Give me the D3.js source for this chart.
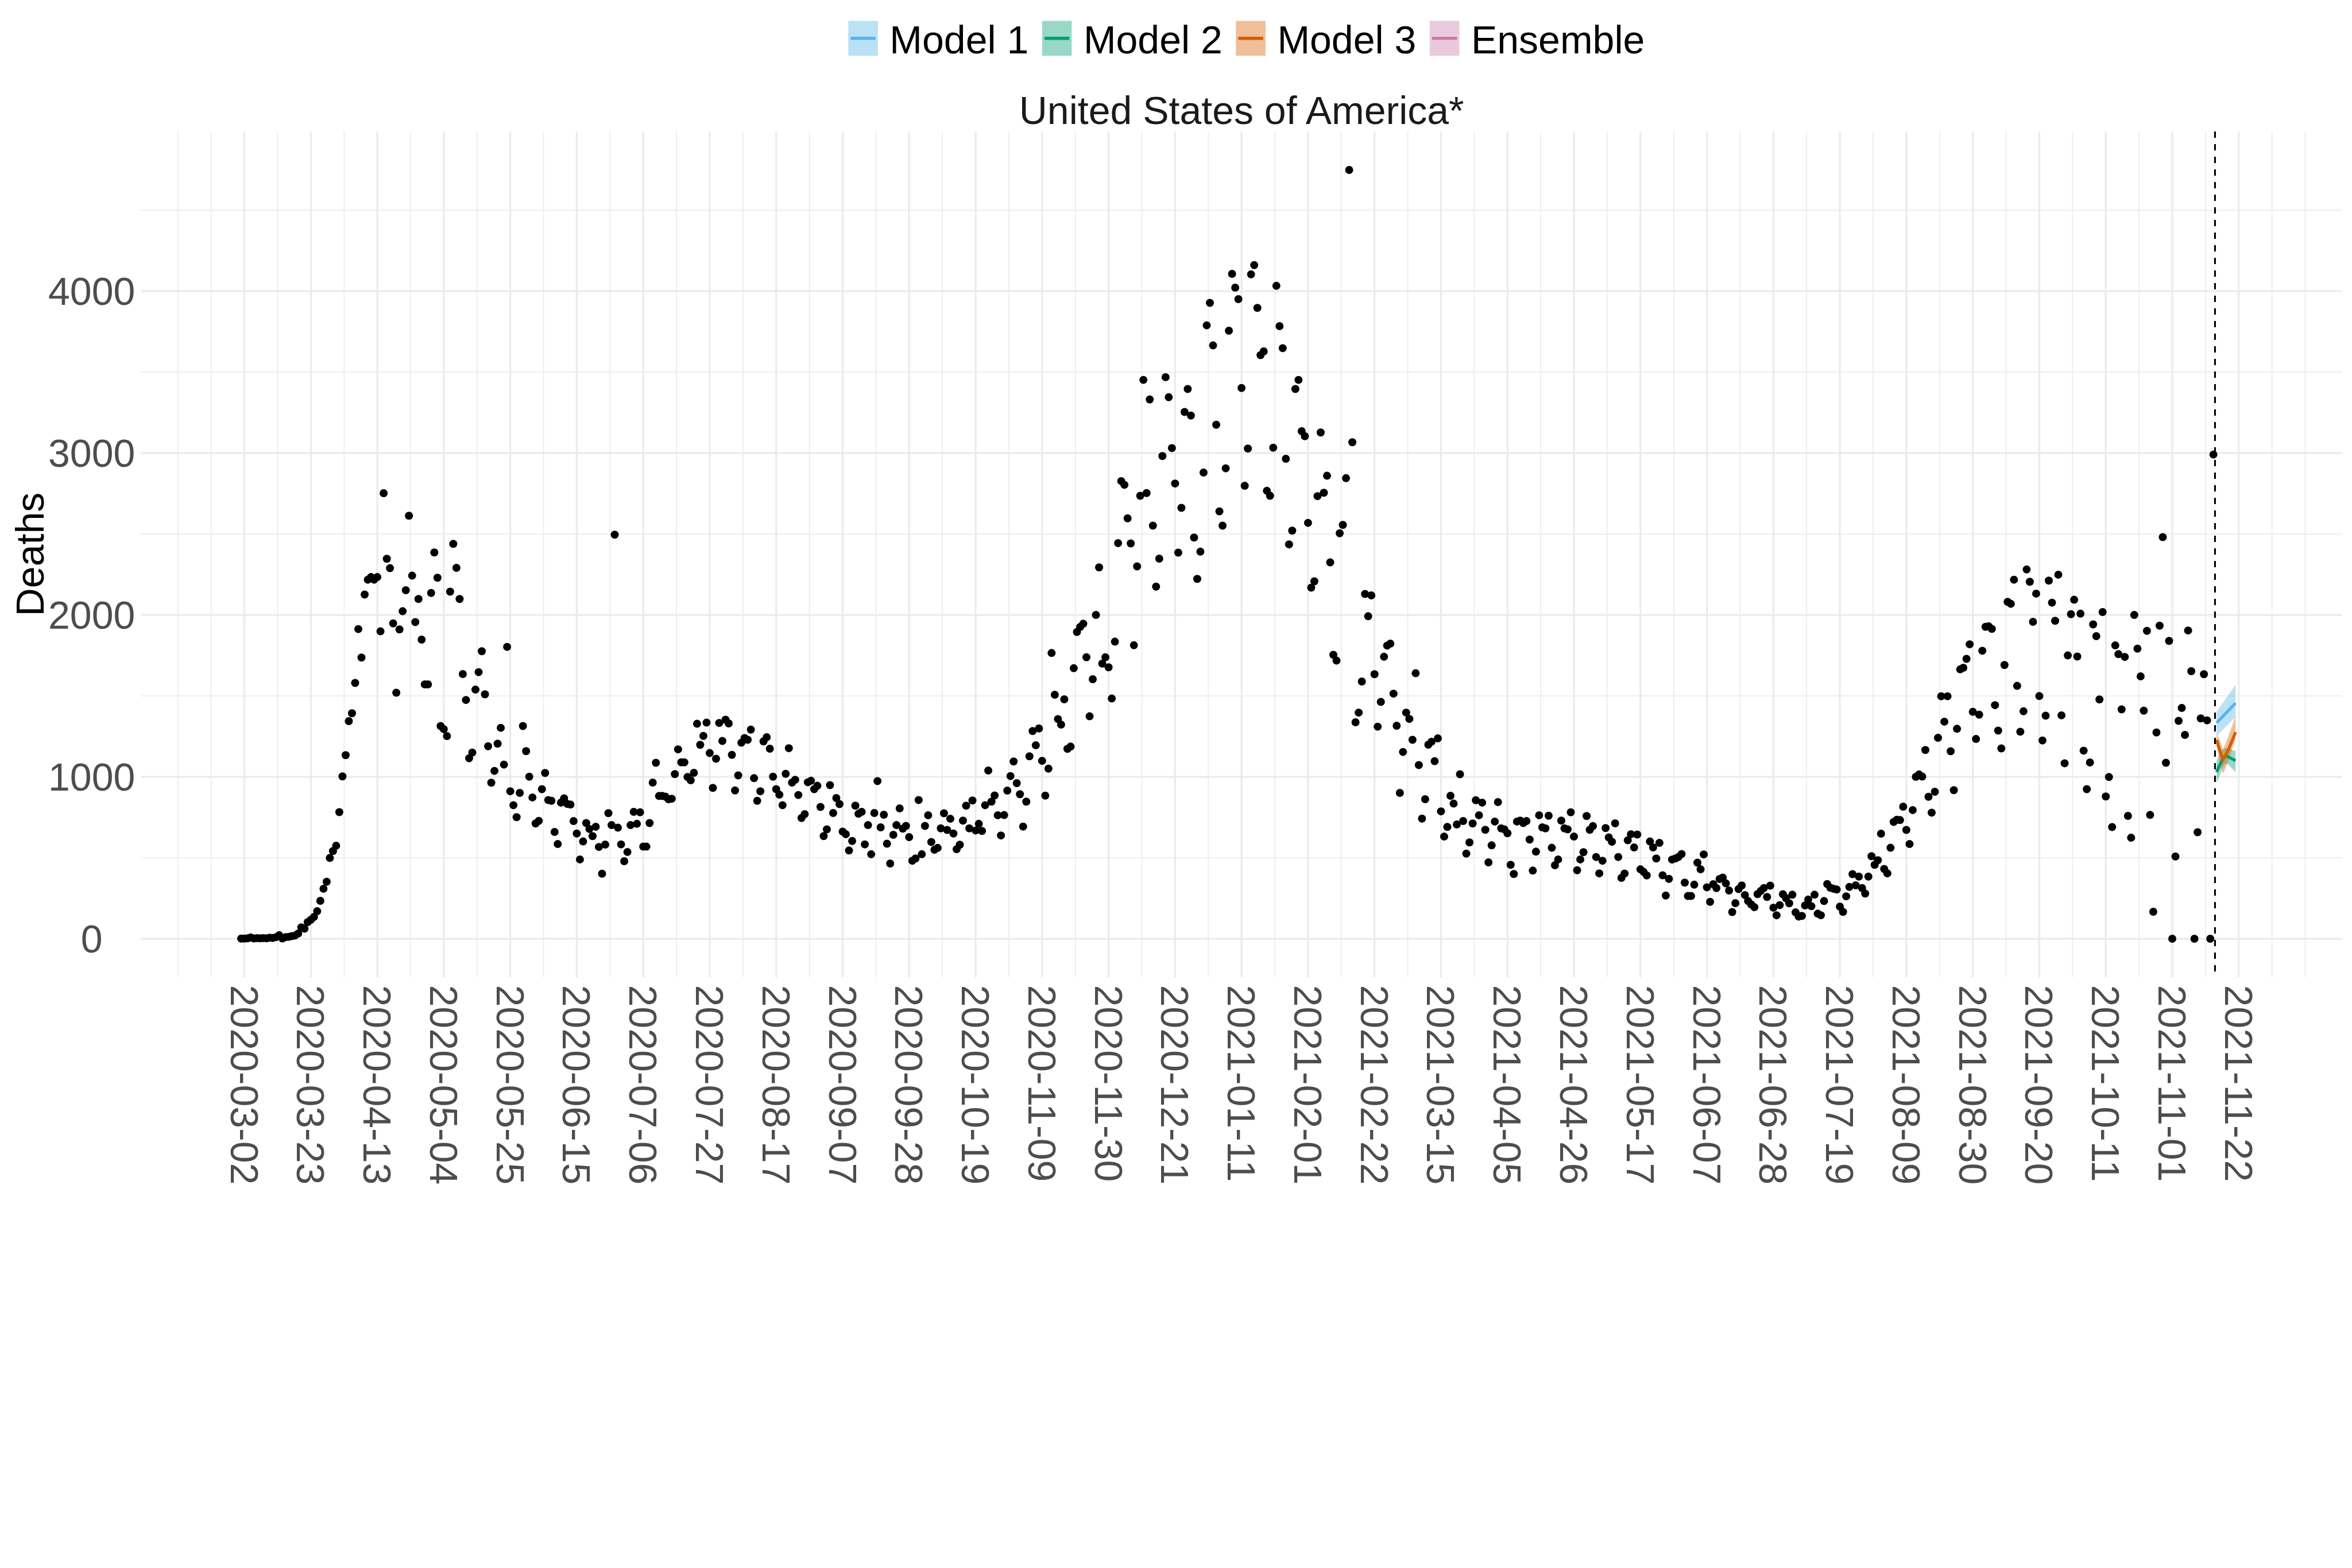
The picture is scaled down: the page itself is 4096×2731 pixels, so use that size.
<!DOCTYPE html>
<html><head><meta charset="utf-8">
<script src="https://cdn.jsdelivr.net/npm/d3@7"></script>
<style>html,body{margin:0;padding:0;background:#fff;} svg{display:block;}</style>
</head><body>
<svg id="chart" width="4096" height="2731"></svg>
<script>
// ---------------- DATA ----------------
const startDate = "2020-03-01";           // first observed day
const xLimits = ["2020-03-01", "2021-11-23"]; // data limits of the x scale
// daily deaths 2020-03-01 .. 2020-12-31
const deaths2020 = [
1,1,3,8,2,4,3,4,3,6,5,10,22,2,10,12,16,20,32,70,62,103,117,135,170,234,309,352,499,542,575,782,
1003,1134,1344,1393,1580,1913,1737,2126,2218,2234,
2218,2234,1899,2752,2347,2289,1948,1520,1911,2023,
2153,2613,2243,1956,2099,1848,1571,1571,2136,2386,
2230,1314,1295,1252,2144,2439,2291,2099,1635,1475,
1115,1150,1539,1647,1776,1510,1189,964,1037,1205,
1303,1076,1803,911,825,751,901,1314,1159,1001,
873,712,728,924,1024,857,852,660,585,841,
867,833,829,727,650,490,601,715,678,634,
692,567,402,582,776,702,2496,686,583,479,
536,702,784,710,781,569,569,715,965,1087,
882,882,878,862,865,1017,1170,1090,1090,999,
979,1025,1328,1198,1253,1335,1147,932,1112,1333,
1222,1353,1330,1136,916,1009,1211,1240,1229,1292,
992,852,911,1219,1245,1174,1001,924,890,825,
1019,1177,965,982,888,746,770,967,976,924,
945,814,634,676,949,777,869,832,662,646,
545,604,822,772,784,583,702,522,777,974,
688,766,587,465,642,702,805,680,697,628,
482,496,857,522,697,763,598,550,561,682,
775,672,741,650,553,581,730,822,682,854,
669,710,666,825,1039,847,885,763,638,764,
915,1005,1095,961,893,693,847,1127,1283,1195,
1299,1099,884,1051,1765,1507,1357,1323,1479,1173,
1187,1671,1895,1926,1946,1739,1374,1603,2000,2294,
1700,1739,1677,1484,1835,2444,2827,2804,2597,2442,
1813,2300,2736,3452,2753,3331,2552,2175,2348,2982,
3469,3345,3031,2812,2385,2662,3254,3396,3232,2478,
2223,2391,2880,3789
];
// daily deaths 2021-01-01 .. 2021-11-14
const deaths2021 = [
3928,3665,3175,2640,2552,2906,
3756,4107,4022,3951,3402,2798,3028,4104,4161,3897,
3605,3628,2767,2736,3033,4033,3784,3648,2965,2436,
2521,3396,3452,3135,3104,2569,2169,2208,2734,3127,
2755,2860,2325,1754,1718,2505,2556,2845,4749,3067,
1337,1397,1589,2130,1992,2121,1634,1310,1463,1742,
1811,1823,1514,1316,901,1154,1397,1358,1229,1640,
1073,742,862,1199,1217,1097,1238,787,631,691,
883,835,706,1016,727,526,595,712,856,763,
841,673,472,577,724,844,682,676,652,457,
400,724,730,715,727,613,421,538,763,688,
682,760,562,454,490,730,682,676,781,631,
423,490,535,758,673,696,505,404,482,684,
626,599,713,505,376,403,608,646,564,644,
429,413,391,601,564,496,592,392,267,370,
489,496,505,523,347,264,264,334,470,429,
521,318,228,337,313,369,378,342,298,165,
220,307,329,270,233,212,195,276,295,313,
258,328,192,145,208,275,250,219,272,163,
137,141,206,242,201,272,155,145,233,338,
315,309,304,199,166,262,320,399,330,384,
313,279,384,510,457,485,649,431,404,562,
722,735,733,816,672,585,795,1000,1015,1002,
1166,877,779,908,1241,1498,1341,1498,1158,918,
1297,1664,1674,1729,1819,1402,1234,1384,1779,1927,
1930,1914,1443,1286,1176,1691,2081,2069,2218,1562,
1279,1405,2281,2205,1958,2132,1499,1225,1378,2212,
2076,1964,2249,1380,1084,1750,2005,2094,1743,2008,
1162,924,1089,1942,1869,1478,2018,879,999,690,
1812,1758,1417,1741,759,624,2000,1792,1621,1409,
1902,765,167,1274,1934,2481,1087,1840,0,508,
1346,1426,1259,1904,1653,0,658,1361,1634,1349,
0,2991
];
const xTickLabels = ["2020-03-02","2020-03-23","2020-04-13","2020-05-04","2020-05-25","2020-06-15",
"2020-07-06","2020-07-27","2020-08-17","2020-09-07","2020-09-28","2020-10-19","2020-11-09",
"2020-11-30","2020-12-21","2021-01-11","2021-02-01","2021-02-22","2021-03-15","2021-04-05",
"2021-04-26","2021-05-17","2021-06-07","2021-06-28","2021-07-19","2021-08-09","2021-08-30",
"2021-09-20","2021-10-11","2021-11-01","2021-11-22"];
const yTicks = [0, 1000, 2000, 3000, 4000];
const yMinorTicks = [500, 1500, 2500, 3500, 4500];
const forecastCut = "2021-11-14T12:00:00Z";
const forecastDates = ["2021-11-15","2021-11-16","2021-11-17","2021-11-18","2021-11-19","2021-11-20","2021-11-21"];
const model1   = [1334,1354,1374,1395,1415,1436,1456];
const model1Lo = [1252,1272,1292,1312,1332,1352,1372];
const model1Hi = [1402,1430,1458,1486,1513,1541,1569];
const model2   = [1030,1075,1110,1130,1120,1110,1100];
const model2Lo = [965,1010,1060,1085,1070,1050,1030];
const model2Hi = [1100,1140,1170,1180,1175,1165,1160];
const model3   = [1228,1165,1105,1140,1180,1228,1276];
const model3Lo = [1190,1090,1020,1060,1120,1175,1229];
const model3Hi = [1265,1230,1170,1215,1265,1320,1380];
const seriesNames  = ["Model 1","Model 2","Model 3","Ensemble"];
const seriesColors = ["#56B4E9","#009E73","#D55E00","#CC79A7"];
const titleText = "United States of America*";
const yTitleText = "Deaths";

// ---------------- LAYOUT ----------------
const FONT = "'Liberation Sans', Arial, Helvetica, sans-serif";
const FS = 68;
const panel = {left: 245.8, right: 4078.5, top: 229, bottom: 1702};
const svg = d3.select("#chart");
svg.append("rect").attr("width",4096).attr("height",2731).attr("fill","#fff");

const parse = d3.utcParse("%Y-%m-%d");
const start = parse(startDate);
const obs = deaths2020.concat(deaths2021).map((v,i)=>({date: d3.utcDay.offset(start, i), v}));

const x0 = parse(xLimits[0]), x1 = parse(xLimits[1]);
const span = x1 - x0;
const x = d3.scaleUtc()
  .domain([new Date(+x0 - 0.05*span), new Date(+x1 + 0.05*span)])
  .range([panel.left, panel.right]);

const allVals = obs.map(d=>d.v).concat(model1Hi, model2Hi, model3Hi);
const yMax = d3.max(allVals), yMin = 0;
const ySpan = yMax - yMin;
const y = d3.scaleLinear().domain([yMin - 0.05*ySpan, yMax + 0.05*ySpan]).range([panel.bottom, panel.top]);

// ---------------- GRID ----------------
const grid = svg.append("g");
const GRID = "#EBEBEB";
// minor vertical lines every half break (10.5 days), including beyond labelled range
const firstMajor = parse(xTickLabels[0]);
const halfStep = 10.5*864e5;
const minorDates = [];
for (let k=-4; k<=62; k++) {
  if (k % 2 === 0 && k >= 0 && k/2 < xTickLabels.length) continue;
  const d = new Date(+firstMajor + k*halfStep);
  const px = x(d);
  if (px > panel.left + 1 && px < panel.right - 1 && (k >= -4) ) minorDates.push(d);
}
grid.selectAll("line.vmin").data(minorDates.filter(d => x(d) > 400*0.7585 )).join("line")
  .attr("x1", d=>x(d)).attr("x2", d=>x(d)).attr("y1", panel.top).attr("y2", panel.bottom)
  .attr("stroke", GRID).attr("stroke-width", 1.6);
grid.selectAll("line.hmin").data(yMinorTicks.filter(v => y(v) > panel.top)).join("line")
  .attr("x1", panel.left).attr("x2", panel.right).attr("y1", d=>y(d)).attr("y2", d=>y(d))
  .attr("stroke", GRID).attr("stroke-width", 1.6);
grid.selectAll("line.vmaj").data(xTickLabels).join("line")
  .attr("x1", d=>x(parse(d))).attr("x2", d=>x(parse(d))).attr("y1", panel.top).attr("y2", panel.bottom)
  .attr("stroke", GRID).attr("stroke-width", 3.2);
grid.selectAll("line.hmaj").data(yTicks).join("line")
  .attr("x1", panel.left).attr("x2", panel.right).attr("y1", d=>y(d)).attr("y2", d=>y(d))
  .attr("stroke", GRID).attr("stroke-width", 3.2);

// ---------------- POINTS ----------------
svg.append("g").selectAll("circle").data(obs).join("circle")
  .attr("cx", d=>x(d.date)).attr("cy", d=>y(d.v)).attr("r", 7).attr("fill", "#000");

// ---------------- FORECASTS ----------------
const fDates = forecastDates.map(parse);
const models = [
  {name: seriesNames[0], color: seriesColors[0], mid: model1, lo: model1Lo, hi: model1Hi},
  {name: seriesNames[1], color: seriesColors[1], mid: model2, lo: model2Lo, hi: model2Hi},
  {name: seriesNames[2], color: seriesColors[2], mid: model3, lo: model3Lo, hi: model3Hi}
];
const area = d3.area().x((d,i)=>x(fDates[i])).y0(d=>y(d[0])).y1(d=>y(d[1]));
const line = d3.line().x((d,i)=>x(fDates[i])).y(d=>y(d));
const fg = svg.append("g");
models.forEach(m => {
  fg.append("path").datum(m.lo.map((v,i)=>[v, m.hi[i]]))
    .attr("d", area).attr("fill", m.color).attr("fill-opacity", 0.4);
});
models.forEach(m => {
  fg.append("path").datum(m.mid).attr("d", line).attr("fill","none")
    .attr("stroke", m.color).attr("stroke-width", 5.2).attr("stroke-linejoin","round");
});

// dashed forecast line
const cut = new Date(forecastCut);
svg.append("line").attr("x1", x(cut)).attr("x2", x(cut)).attr("y1", panel.top).attr("y2", panel.bottom)
  .attr("stroke", "#000").attr("stroke-width", 3.1).attr("stroke-dasharray", "11,11");

// ---------------- AXES ----------------
const yAx = svg.append("g");
yAx.selectAll("text").data(yTicks).join("text")
  .attr("x", 159.7).attr("y", d=>y(d)).attr("text-anchor","middle").attr("dominant-baseline","central")
  .attr("font-family", FONT).attr("font-size", FS).attr("fill", "#4D4D4D").text(d=>d);

const xAx = svg.append("g");
xAx.selectAll("text").data(xTickLabels).join("text")
  .attr("transform", d=>`translate(${x(parse(d))},${panel.bottom + 13.5}) rotate(90)`)
  .attr("text-anchor","start").attr("dominant-baseline","central")
  .attr("font-family", FONT).attr("font-size", FS).attr("fill", "#4D4D4D").text(d=>d);

svg.append("text")
  .attr("transform", `translate(52.3,${(panel.top+panel.bottom)/2}) rotate(-90)`)
  .attr("text-anchor","middle").attr("dominant-baseline","central")
  .attr("font-family", FONT).attr("font-size", FS).attr("fill", "#000").text(yTitleText);

// title
svg.append("text").attr("x", (panel.left+panel.right)/2).attr("y", 216.2)
  .attr("text-anchor","middle").attr("font-family", FONT).attr("font-size", FS)
  .attr("fill", "#1A1A1A").text(titleText);

// ---------------- LEGEND ----------------
const keyW = 51.6, keyH = 60.7, keyTop = 36.4, gapKT = 20.5, gapTK = 23.5, baseY = 93.3;
const lg = svg.append("g");
const items = seriesNames.map((n,i)=>({name:n, color:seriesColors[i]}));
// measure
const widths = items.map(it => {
  const t = lg.append("text").attr("font-family", FONT).attr("font-size", FS).text(it.name);
  const w = t.node().getComputedTextLength(); t.remove(); return w;
});
const total = d3.sum(widths) + items.length*(keyW+gapKT) + (items.length-1)*gapTK;
let cx = 2170.8 - total/2;
items.forEach((it,i) => {
  lg.append("rect").attr("x", cx).attr("y", keyTop).attr("width", keyW).attr("height", keyH)
    .attr("fill", it.color).attr("fill-opacity", 0.4);
  lg.append("line").attr("x1", cx+4).attr("x2", cx+keyW-4)
    .attr("y1", keyTop+keyH/2).attr("y2", keyTop+keyH/2)
    .attr("stroke", it.color).attr("stroke-width", 5.5);
  lg.append("text").attr("x", cx+keyW+gapKT).attr("y", baseY)
    .attr("font-family", FONT).attr("font-size", FS).attr("fill", "#000").text(it.name);
  cx += keyW + gapKT + widths[i] + gapTK;
});
</script>
</body></html>
